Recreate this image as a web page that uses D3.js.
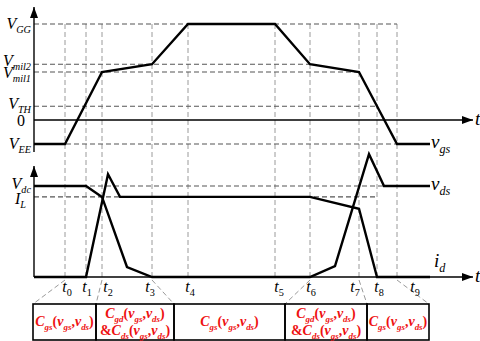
<!doctype html>
<html>
<head>
<meta charset="UTF-8">
<title>switching waveforms</title>
<script src="https://d3js.org/d3.v7.min.js"></script>
<style>
  body { margin: 0; background: #fff; }
</style>
</head>
<body>
<svg width="480" height="341"></svg>
<script>
// time instants t0..t9 (arbitrary units)
var tNames = ["0","1","2","3","4","5","6","7","8","9"];
var tVals  = [3.1, 5.2, 6.8, 11.8, 15.4, 24.1, 27.6, 32.5, 34.3, 36.3];

// gate voltage levels (V)
var vEE = -4, vTH = 2.3, vMil1 = 8, vMil2 = 9.3, vGG = 16;

// gate-source voltage [time, V]
var vgsPts = [[0,-4],[3.1,-4],[6.8,8],[11.8,9.3],[15.4,16],[24.1,16],[27.6,9.3],[32.5,8],[36.3,-4],[39.6,-4]];

// drain-source voltage and drain current (per unit of Vdc)
var vdc = 1, iL = 0.88;
var vdsPts = [[0,1],[5.2,1],[6.8,0.88],[9.3,0.11],[11.8,0],[27.6,0],[30.1,0.12],[33.5,1.35],[35.0,1],[39.6,1]];
var idPts  = [[0,0],[5.2,0],[7.4,1.13],[8.6,0.88],[27.6,0.88],[32.5,0.75],[34.3,0],[39.6,0]];

// interval boxes
var boxEdges = [-0.1, 6.2, 14.0, 25.1, 33.3, 39.5];
var boxKinds = ["gs","gdds","gs","gdds","gs"];

// layout bits
var tLabelShift = [2, 1, 6, -2, 2, 4, 1, -4, 2, 18];
var serif = "'Liberation Serif'";

var svg = d3.select("svg");
var x = d3.scaleLinear().domain([0, 43.6]).range([34, 470]);
var yTop = d3.scaleLinear().domain([-4, 16]).range([144, 24]);
var yBot = d3.scaleLinear().domain([0, 1]).range([277, 186]);

var dashH = "#555", dashV = "#9a9a9a";

function hline(y, x0, x1, col){
  svg.append("line").attr("x1", x0).attr("x2", x1).attr("y1", y).attr("y2", y)
     .attr("stroke", col).attr("stroke-width", 1.1).attr("stroke-dasharray", "5,3");
}

// vertical dashed lines
tVals.forEach(function(t){
  svg.append("line").attr("x1", x(t)).attr("x2", x(t))
     .attr("y1", yTop(vGG)).attr("y2", yBot(0) + 3)
     .attr("stroke", dashV).attr("stroke-width", 1).attr("stroke-dasharray", "5,3");
});

// horizontal dashed lines
hline(yTop(vGG), x(0), x(tVals[9]), dashH);
hline(yTop(vMil2), x(0), x(tVals[6]), dashH);
hline(yTop(vMil1), x(0), x(tVals[7]), dashH);
hline(yTop(vTH), x(0), x(tVals[8]), dashH);
hline(yTop(vEE), x(0), x(tVals[9]), dashH);
hline(yBot(vdc), x(0), x(35.0), dashH);
hline(yBot(iL), x(0), x(tVals[8]), dashH);

// slanted lines to the boxes
var boxTop = 304, boxBot = 340;
[[0,0],[2,1],[3,2],[6,3],[7,4],[9,5]].forEach(function(p){
  svg.append("line").attr("x1", x(tVals[p[0]])).attr("y1", yBot(0) + 3)
     .attr("x2", x(boxEdges[p[1]])).attr("y2", boxTop)
     .attr("stroke", dashV).attr("stroke-width", 1).attr("stroke-dasharray", "5,3");
});

// axes with arrows
function arrowAxis(x0, y0, x1, y1){
  svg.append("line").attr("x1", x0).attr("y1", y0).attr("x2", x1).attr("y2", y1)
     .attr("stroke", "#000").attr("stroke-width", 1.4);
  var ang = Math.atan2(y1 - y0, x1 - x0);
  var L = 11, W = 4;
  var bx = x1 - L*Math.cos(ang), by = y1 - L*Math.sin(ang);
  var px = -Math.sin(ang)*W, py = Math.cos(ang)*W;
  svg.append("path")
     .attr("d", "M" + x1 + "," + y1 + "L" + (bx+px) + "," + (by+py) + "L" + (bx-px) + "," + (by-py) + "Z")
     .attr("fill", "#000");
}
arrowAxis(x(0), 152, x(0), 7);
arrowAxis(x(0), yTop(0), x(43.9), yTop(0));
arrowAxis(x(0), yBot(0), x(0), 166);
arrowAxis(x(0), yBot(0), x(43.9), yBot(0));

// curves
var lineTop = d3.line().x(function(d){ return x(d[0]); }).y(function(d){ return yTop(d[1]); });
var lineBot = d3.line().x(function(d){ return x(d[0]); }).y(function(d){ return yBot(d[1]); });
svg.append("path").attr("d", lineTop(vgsPts)).attr("fill", "none").attr("stroke", "#000").attr("stroke-width", 2.4);
svg.append("path").attr("d", lineBot(vdsPts)).attr("fill", "none").attr("stroke", "#000").attr("stroke-width", 2.4);
svg.append("path").attr("d", lineBot(idPts)).attr("fill", "none").attr("stroke", "#000").attr("stroke-width", 2.4);

// rich text helper: parts = [text, italic, sub]
function rich(g, px, py, parts, size, anchor, color, weight){
  var t = g.append("text").attr("x", px).attr("y", py).attr("text-anchor", anchor || "start")
     .style("font-family", serif)
     .attr("font-size", size).attr("fill", color || "#000").attr("font-weight", weight || "normal");
  var shift = 0;
  parts.forEach(function(p){
    var target = p[2] ? Math.round(size*0.25) : 0;
    t.append("tspan").attr("dy", target - shift)
     .style("font-family", serif)
     .style("font-style", p[1] ? "italic" : "normal")
     .attr("font-size", p[2] ? size*0.64 : size)
     .text(p[0]);
    shift = target;
  });
  return t;
}

// y labels
var fs = 16;
rich(svg, 31, yTop(vGG) + 5, [["V",1],["GG",1,1]], fs, "end");
rich(svg, 31, yTop(vMil2) + 2, [["V",1],["mil2",1,1]], fs, "end");
rich(svg, 31, yTop(vMil1) + 6, [["V",1],["mil1",1,1]], fs, "end");
rich(svg, 31, yTop(vTH) + 3, [["V",1],["TH",1,1]], fs, "end");
rich(svg, 25, yTop(0) + 6, [["0",0]], fs, "end");
rich(svg, 31, yTop(vEE) + 5, [["V",1],["EE",1,1]], fs, "end");
rich(svg, 31, yBot(vdc) + 3, [["V",1],["dc",1,1]], fs, "end");
rich(svg, 26, yBot(iL) + 7, [["I",1],["L",1,1]], fs, "end");

// curve labels
rich(svg, 431, yTop(vEE) + 4, [["v",1],["gs",1,1]], 19, "start");
rich(svg, 431, yBot(vdc) + 4, [["v",1],["ds",1,1]], 19, "start");
rich(svg, 434, yBot(0) - 10, [["i",1],["d",1,1]], 19, "start");
rich(svg, 475, yTop(0) + 5, [["t",1]], 19, "start");
rich(svg, 475, yBot(0) + 5, [["t",1]], 19, "start");

// time labels
tVals.forEach(function(t, i){
  rich(svg, x(t) + tLabelShift[i], 292, [["t",1],[tNames[i],0,1]], 16, "middle");
});

// interval boxes
var red = "#ee1111";
var gsParts = [["C",1],["gs",1,1],["(",0],["v",1],["gs",1,1],[",",0],["v",1],["ds",1,1],[")",0]];
var gdParts = [["C",1],["gd",1,1],["(",0],["v",1],["gs",1,1],[",",0],["v",1],["ds",1,1],[")",0]];
var dsParts = [["&",0],["C",1],["ds",1,1],["(",0],["v",1],["gs",1,1],[",",0],["v",1],["ds",1,1],[")",0]];
for (var i = 0; i < boxKinds.length; i++){
  var x0 = x(boxEdges[i]), x1 = x(boxEdges[i+1]);
  svg.append("rect").attr("x", x0).attr("y", boxTop).attr("width", x1 - x0).attr("height", boxBot - boxTop)
     .attr("fill", "none").attr("stroke", "#000").attr("stroke-width", 1.6);
  var cx = (x0 + x1) / 2;
  if (boxKinds[i] === "gs"){
    rich(svg, cx, 326, gsParts, 14, "middle", red, "bold");
  } else {
    rich(svg, cx, 318, gdParts, 14, "middle", red, "bold");
    rich(svg, cx, 335, dsParts, 14, "middle", red, "bold");
  }
}
</script>
</body>
</html>
